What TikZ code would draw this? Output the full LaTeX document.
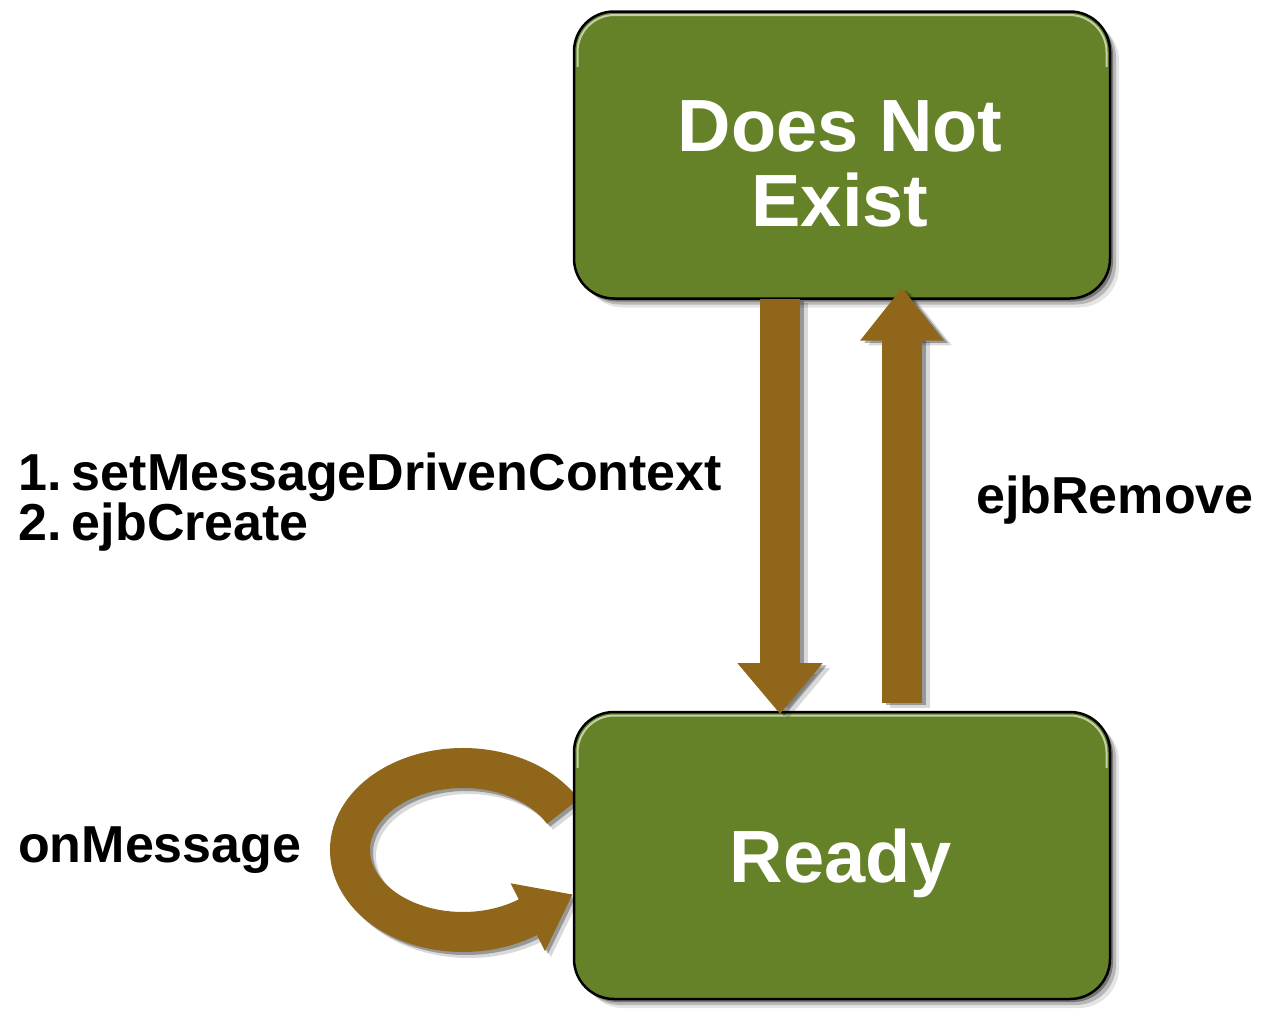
\documentclass[tikz,border=0pt]{standalone}
\usepackage{fontspec}
\setmainfont{Liberation Sans}
\usetikzlibrary{arrows.meta,calc,backgrounds}
\definecolor{boxgreen}{RGB}{101,130,41}
\definecolor{flowbrown}{RGB}{143,102,26}
\definecolor{hilite}{RGB}{196,208,168}
\tikzset{
  state/.style={draw=black, line width=2.5pt, fill=boxgreen, rounded corners=40pt,
    minimum width=536pt, minimum height=287pt, inner sep=0pt, outer sep=0pt},
  statetext/.style={text=white, font=\bfseries\fontsize{74}{75}\selectfont, align=center, inner sep=0pt},
  flow/.style={draw=flowbrown, line width=40pt, -{Triangle[width=82pt,length=51pt]}},
  flowup/.style={draw=flowbrown, line width=40pt, -{Triangle[width=80pt,length=53pt]}},
  loopband/.style={draw=flowbrown, line width=40pt},
  lbl/.style={text=black, font=\bfseries\fontsize{52}{50}\selectfont, inner sep=0pt, align=left},
}
\begin{document}
\begin{tikzpicture}[x=1pt,y=1pt]
\useasboundingbox (0,0) rectangle (1261,-1009);
% states
\node[state] (dne) at (842,-155) {};
\node[state] (ready) at (842,-855.5) {};
\coordinate (dx) at (780,0);
\coordinate (ux) at (902,0);
\coordinate (lc) at (463,-850);
% top highlights
\foreach \n in {dne,ready}{
  \begin{scope}
    \clip ($(\n.north west)+(-5,5)$) rectangle ($(\n.north east)+(5,-55)$);
    \draw[hilite, line width=2pt, rounded corners=37pt]
      ($(\n.north west)+(3.5,-3.5)$) rectangle ($(\n.south east)+(-3.5,3.5)$);
  \end{scope}
}
\begin{pgfonlayer}{background}
  % box shadows
  \foreach \n in {dne,ready}{
    \foreach \s/\o in {3/0.35,6/0.2,9/0.1}{
      \fill[black, opacity=\o, rounded corners=40pt]
        ($(\n.north west)+(\s,-\s)$) rectangle ($(\n.south east)+(\s,-\s)$);
    }
  }
  % self loop on Ready: shadow
  \foreach \s/\o in {3/0.3,6/0.15}{
    \draw[black, opacity=\o, line width=40pt]
      ($(lc)+(99.77+\s,38.50-\s)$) arc[start angle=28, end angle=305, x radius=113, y radius=82];
    \fill[black, opacity=\o]
      ($(lc)+(47.6+\s,-33.3-\s)$) -- ($(lc)+(109.4+\s,-44.5-\s)$) -- ($(lc)+(82.0+\s,-101.05-\s)$) -- cycle;
  }
  % self loop
  \draw[loopband] ($(lc)+(99.77,38.50)$) arc[start angle=28, end angle=306, x radius=113, y radius=82];
  \fill[flowbrown] ($(lc)+(47.6,-33.3)$) -- ($(lc)+(109.4,-44.5)$) -- ($(lc)+(82.0,-101.05)$) -- cycle;
\end{pgfonlayer}
% arrow shadows
\foreach \s/\o in {4/0.3,8/0.15}{
  \draw[flow, draw=black, opacity=\o, transform canvas={shift={(\s,-\s*0.6)}}]
    (dne.south -| dx) -- ($(ready.north -| dx)+(0,-2)$);
  \draw[flowup, draw=black, opacity=\o, transform canvas={shift={(\s,-\s*0.6)}}]
    ($(ready.north -| ux)+(0,9)$) -- ($(dne.south -| ux)+(0,11)$);
}
% transitions
\draw[flow] (dne.south -| dx) -- ($(ready.north -| dx)+(0,-2)$);
\draw[flowup] ($(ready.north -| ux)+(0,9)$) -- ($(dne.south -| ux)+(0,11)$);
% state texts
\node[statetext] (dnetext) at (840,-164) {Does Not\\Exist};
\node[statetext, anchor=base] (readytext) at (841,-882) {Ready};
% labels
\node[lbl, anchor=north west] (createlbl) at (18,-453) {1.\hspace{0.2em}setMessageDrivenContext\\2.\hspace{0.2em}ejbCreate};
\node[lbl, anchor=base west] (removelbl) at (976,-513) {ejbRemove};
\node[lbl, anchor=base west] (msglbl) at (18,-862) {onMessage};
\end{tikzpicture}
\end{document}
